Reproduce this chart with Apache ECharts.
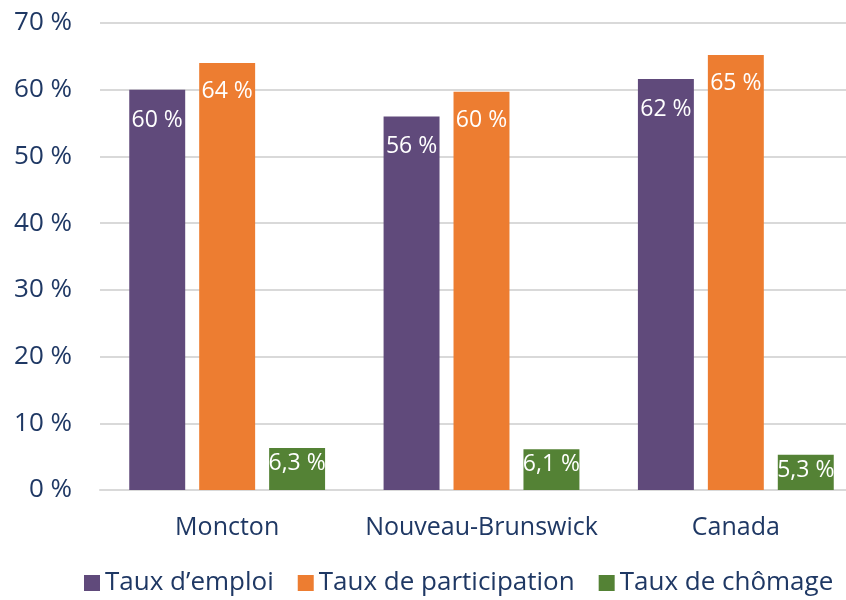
<!DOCTYPE html>
<html>
<head>
<meta charset="utf-8">
<script src="https://cdn.jsdelivr.net/npm/echarts@6/dist/echarts.min.js"></script>
<style>
  html, body { margin: 0; padding: 0; background: #fff; }
  #chart_container { width: 846px; height: 600px; }
</style>
</head>
<body>
<div id="chart_container"></div>
<script>
var categories = ['Moncton', 'Nouveau-Brunswick', 'Canada'];
var seriesNames = ['Taux d\u2019emploi', 'Taux de participation', 'Taux de ch\u00f4mage'];
var emploi = [60.0, 56.0, 61.6];
var participation = [64.0, 59.7, 65.2];
var chomage = [6.3, 6.1, 5.3];
var yTicks = [0, 10, 20, 30, 40, 50, 60, 70];

var navy = '#1F3864';
var font = 'Open Sans';

function pct(decimals) {
    return function (p) {
        return p.value.toFixed(decimals).replace('.', ',') + ' %';
    };
}

var dom = document.getElementById("chart_container");
var myChart = echarts.init(dom);
var option = null;

option = {
    color: ['#604A7B', '#ED7D31', '#548235'],
    textStyle: { fontFamily: font },
    grid: {
        left: 100,
        width: 763,   // plot area runs past the right edge in the original
        top: 23,
        bottom: 110,
        outerBoundsMode: 'none'
    },
    legend: {
        data: seriesNames,
        top: 570,
        left: 84,
        icon: 'rect',
        itemWidth: 16,
        itemHeight: 16,
        itemGap: 24,
        padding: 0,
        textStyle: { color: navy, fontSize: 26, fontFamily: font }
    },
    xAxis: {
        type: 'category',
        data: categories,
        axisTick: { show: false },
        axisLine: { lineStyle: { color: '#D9D9D9', width: 2 } },
        axisLabel: { color: navy, fontSize: 25, margin: 25, interval: 0, fontFamily: font }
    },
    yAxis: {
        type: 'value',
        min: yTicks[0],
        max: yTicks[yTicks.length - 1],
        interval: 10,
        axisLine: { show: false },
        axisTick: { show: false },
        splitLine: { lineStyle: { color: '#D9D9D9', width: 2 } },
        axisLabel: {
            color: navy,
            fontSize: 26,
            margin: 28,
            fontFamily: font,
            formatter: function (v) { return v + ' %'; }
        }
    },
    series: [
        {
            name: seriesNames[0],
            type: 'bar',
            barWidth: '22%',
            barGap: '25%',
            data: emploi,
            label: { show: true, position: 'insideTop', distance: 19, color: '#fff', fontSize: 23, formatter: pct(0) }
        },
        {
            name: seriesNames[1],
            type: 'bar',
            barWidth: '22%',
            barGap: '25%',
            data: participation,
            label: { show: true, position: 'insideTop', distance: 17, color: '#fff', fontSize: 23, formatter: pct(0) }
        },
        {
            name: seriesNames[2],
            type: 'bar',
            barWidth: '22%',
            barGap: '25%',
            data: chomage,
            label: { show: true, position: 'insideTop', distance: 4, color: '#fff', fontSize: 23, formatter: pct(1) }
        }
    ]
};

if (option && typeof option === "object") {
    myChart.setOption(option, true);
}
</script>
</body>
</html>
